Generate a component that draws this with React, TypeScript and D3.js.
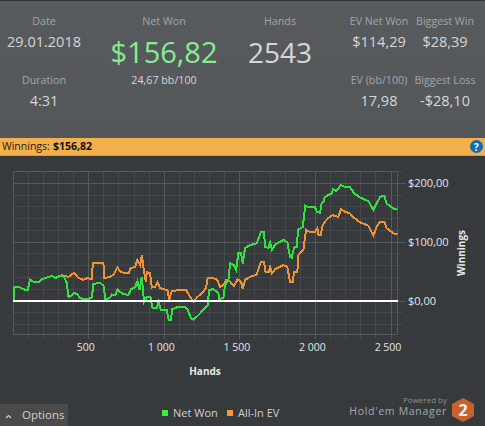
import React from "react";
import * as d3 from "d3";

const netWonHands = [0,2,7,24,46,68,95,112,134,174,190,223,256,278,311,337,355,366,388,403,425,443,465,492,520,531,575,597,611,642,653,675,690,719,763,778,807,822,836,851,866,884,910,919,950,961,977,1016,1029,1045,1051,1082,1137,1153,1175,1192,1226,1259,1287,1296,1325,1358,1364,1391,1402,1424,1435,1461,1475,1490,1508,1519,1534,1567,1611,1640,1660,1666,1689,1700,1713,1733,1788,1814,1832,1843,1858,1876,1885,1916,1933,1964,1997,2008,2030,2041,2052,2063,2107,2118,2140,2169,2195,2228,2257,2295,2350,2383,2405,2427,2456,2471,2500,2526,2543];
const netWonValues = [0,0,23,24,23,20,18,36,33,33,37,40,43,39,43,41,30,7,9,14,11,5,3,3,6,29,31,26,2,6,11,10,20,13,10,20,23,34,19,41,-2,7,6,-11,-12,-2,-15,-16,-32,-32,-14,-11,-10,-14,-28,-32,-24,-15,-7,19,20,13,3,6,27,36,64,61,53,81,81,64,90,95,98,118,118,92,90,100,87,96,104,100,75,73,91,92,121,126,162,159,160,152,150,166,168,177,183,190,187,197,194,194,183,176,170,155,166,177,179,166,160,156,157];
const evHands = [0,2,7,24,46,68,95,112,134,174,190,223,256,278,322,366,403,432,465,492,520,527,597,602,642,664,690,712,763,778,807,822,840,851,866,877,884,906,917,939,954,972,1023,1032,1049,1082,1144,1175,1192,1219,1248,1276,1287,1314,1351,1369,1391,1408,1424,1461,1486,1508,1519,1534,1567,1611,1640,1660,1669,1691,1700,1713,1733,1788,1814,1832,1849,1858,1880,1887,1920,1938,1964,1997,2013,2021,2035,2048,2063,2085,2112,2151,2169,2195,2228,2257,2295,2350,2383,2405,2427,2456,2471,2500,2526,2543];
const evValues = [0,0,23,24,23,20,18,36,33,33,37,40,43,39,44,41,48,39,36,39,37,64,65,39,41,45,57,49,47,56,58,70,61,78,50,33,49,47,23,24,32,22,18,2,17,18,19,5,-1,7,13,22,39,40,36,24,27,36,36,26,37,33,20,36,41,45,67,67,50,49,58,47,54,61,58,32,32,49,49,78,87,121,117,118,124,112,112,129,135,141,146,143,156,152,149,141,134,128,111,126,135,135,124,118,114,115];
const xMajor = [500,1000,1500,2000,2500];
const xLabels = ["500","1 000","1 500","2 000","2 500"];
const yMajor = [0,100,200];
const yLabels = ["$0,00","$100,00","$200,00"];
const xMinor = d3.range(100, 2543, 100);
const yMinor = d3.range(-40, 221, 20);

const FONT = "'Open Sans', 'Noto Sans', sans-serif";
const x = d3.scaleLinear().domain([0, 2543]).range([13.2, 397.5]);
const y = d3.scaleLinear().domain([-56.1, 221.1]).range([334, 171]);

const line = (h: number[], v: number[]) =>
  d3.line<number>().x((d) => x(d)).y((_, i) => y(v[i])).curve(d3.curveLinear)(h) ?? "";

const headerItems: [string, string, number, number, number, number][] = [
  ["Date", "29.01.2018", 44, 25, 47, 14.5],
  ["Duration", "4:31", 44, 84, 106, 14.5],
  ["Hands", "2543", 280, 25, 63, 28],
  ["EV Net Won", "$114,29", 379, 25, 47, 14.5],
  ["Biggest Win", "$28,39", 445, 25, 47, 14.5],
  ["EV (bb/100)", "17,98", 379, 84, 106, 14.5],
  ["Biggest Loss", "-$28,10", 445, 84, 106, 14.5],
];

export default function App() {
  return (
    <svg width={485} height={426} style={{ position: "fixed", left: 0, top: 0, fontFamily: FONT }}>
      <defs>
        <linearGradient id="head" x1="0" x2="0" y1="0" y2="1">
          <stop offset="0" stopColor="#585b5e" />
          <stop offset="1" stopColor="#54575a" />
        </linearGradient>
      </defs>
      <rect width={485} height={426} fill="#373a3d" />
      <rect width={485} height={138} fill="url(#head)" />
      <rect width={485} height={1} fill="#2f3133" />
      <rect x={0} y={138} width={485} height={18} fill="#f4b04a" />
      <rect x={0} y={155} width={485} height={1} fill="#d99a3f" />

      {headerItems.map(([label, value, cx, ly, vy, size]) => (
        <g key={label} textAnchor="middle">
          <text x={cx} y={ly} fontSize={10.7} fontWeight={500} fill="#a2a5a7">{label}</text>
          <text x={cx} y={vy} fontSize={size} fill="#d6d6d6">{value}</text>
        </g>
      ))}
      <g textAnchor="middle">
        <text x={164} y={25} fontSize={10.7} fontWeight={500} fill="#a2a5a7">Net Won</text>
        <text x={164} y={63} fontSize={29} fill="#86ec8f">$156,82</text>
        <text x={164} y={84} fontSize={10.7} fill="#d6d6d6">24,67 bb/100</text>
      </g>

      <text x={2} y={150} fontSize={10.5} fill="#1a1a1a">Winnings:</text>
      <text x={53} y={150} fontSize={10.5} fontWeight={700} fill="#111">$156,82</text>
      <circle cx={476.5} cy={146.5} r={6.5} fill="#1668b4" />
      <text x={476.5} y={150.5} fontSize={10} fontWeight={700} fill="#fff" textAnchor="middle">?</text>

      <g stroke="#46494b" strokeWidth={1} shapeRendering="crispEdges">
        {xMinor.map((h) => (
          <line key={h} x1={x(h)} x2={x(h)} y1={171} y2={339} />
        ))}
        {yMinor.map((v) => (
          <line key={v} x1={13} x2={402} y1={y(v)} y2={y(v)} />
        ))}
      </g>
      <g stroke="#56595b" strokeWidth={1} shapeRendering="crispEdges">
        {xMajor.map((h) => <line key={h} x1={x(h)} x2={x(h)} y1={171} y2={339} />)}
        {yMajor.map((v) => <line key={v} x1={13} x2={406} y1={y(v)} y2={y(v)} />)}
        <rect x={13.5} y={171.5} width={384} height={162.5} fill="none" />
      </g>

      <path d={line(evHands, evValues)} fill="none" stroke="#f09433" strokeWidth={2} shapeRendering="crispEdges" />
      <path d={line(netWonHands, netWonValues)} fill="none" stroke="#2fe23c" strokeWidth={2} shapeRendering="crispEdges" />
      <line x1={13} x2={398} y1={y(0)} y2={y(0)} stroke="#ffffff" strokeWidth={2} />

      {xMajor.map((h, i) => (
        <text key={h} x={x(h) - 3} y={351} fontSize={10.5} fill="#e4e4e4" textAnchor="middle">{xLabels[i]}</text>
      ))}
      {yMajor.map((v, i) => (
        <text key={v} x={408} y={y(v) + 3.5} fontSize={11} fill="#e4e4e4">{yLabels[i]}</text>
      ))}
      <text x={205} y={375} fontSize={10} fontWeight={700} fill="#e8e8e8" textAnchor="middle">Hands</text>
      <text transform="translate(465,253) rotate(-90)" fontSize={10} fontWeight={700} fill="#e8e8e8" textAnchor="middle">Winnings</text>

      <rect x={0} y={404} width={68} height={22} fill="#4a4a4a" />
      <path d="M6,418 L8.5,415.5 L11,418" fill="none" stroke="#d0d0d0" strokeWidth={1.2} />
      <text x={22} y={419} fontSize={11.5} fill="#d0d0d0">Options</text>

      <rect x={162} y={410} width={6} height={6} fill="#36f23c" />
      <text x={173} y={417} fontSize={11} fill="#cfcfcf">Net Won</text>
      <rect x={227} y={410} width={6} height={6} fill="#f79a33" />
      <text x={238} y={417} fontSize={11} fill="#cfcfcf">All-In EV</text>

      <text x={447} y={403} fontSize={8} fill="#8c8c8c" textAnchor="end">Powered by</text>
      <text x={447} y={415} fontSize={10.5} fill="#a8a8a8" textAnchor="end" letterSpacing={0.7}>Hold'em Manager</text>
      <path d="M463,398 L474,404 L474,416 L463,422 L452,416 L452,404 Z" fill="#c8622a" />
      <text x={463} y={416} fontSize={16} fontWeight={700} fill="#f2f2f2" textAnchor="middle">2</text>
    </svg>
  );
}
